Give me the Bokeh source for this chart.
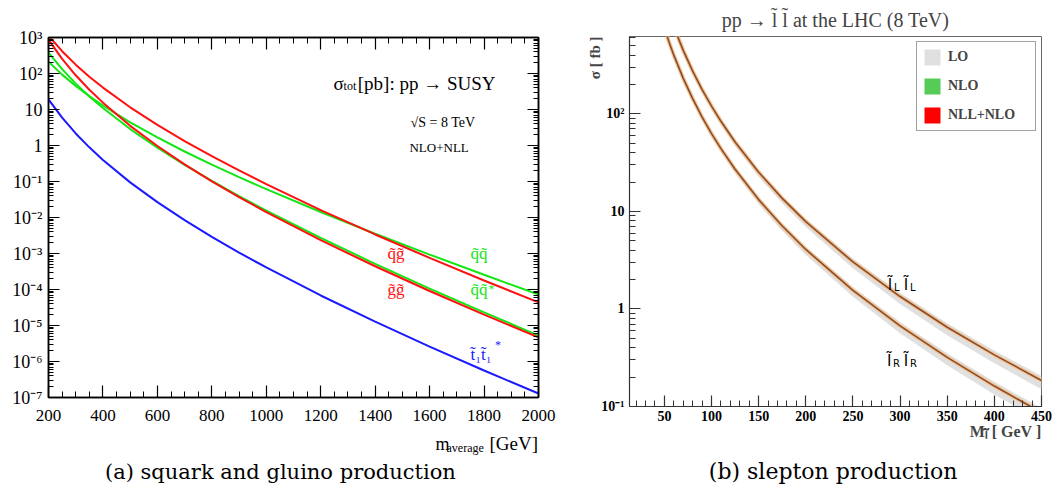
from bokeh.plotting import figure
from bokeh.models import (FixedTicker, LogAxis, LinearAxis, Label, Legend, LegendItem,
                          ColumnDataSource, CustomJSTickFormatter, Title)
from bokeh.layouts import row, column
from bokeh.embed import file_html
from bokeh.resources import INLINE
import numpy as np

# ---------------- panel (a): squark and gluino production (sigma in pb) -------------
mass_a = [200, 250, 300, 350, 400, 500, 600, 700, 800, 900, 1000, 1200, 1400, 1600, 1800, 2000]
sig_qg = [1122, 416, 176, 81.7, 40.6, 11.5, 3.74, 1.33, 0.506, 0.203, 0.0845, 0.0161, 0.00338, 7.55e-4, 1.78e-4, 4.37e-5]
sig_gg = [871, 256, 89.3, 35.5, 15.5, 3.52, 0.966, 0.299, 0.101, 0.0368, 0.0141, 2.34e-3, 4.42e-4, 9.08e-5, 2.00e-5, 4.68e-6]
sig_qqbar = [380, 132, 52.4, 23.1, 11.0, 2.86, 0.865, 0.289, 0.104, 0.0393, 0.0155, 2.70e-3, 5.16e-4, 1.06e-4, 2.31e-5, 5.25e-6]
sig_qq = [214, 93.1, 45.1, 23.5, 12.9, 4.41, 1.67, 0.681, 0.293, 0.132, 0.0611, 0.0142, 3.54e-3, 9.33e-4, 2.56e-4, 7.24e-5]
sig_stop = [19.1, 5.92, 2.16, 0.889, 0.398, 0.0946, 0.0267, 8.43e-3, 2.90e-3, 1.06e-3, 4.09e-4, 6.82e-5, 1.28e-5, 2.59e-6, 5.62e-7, 1.29e-7]

xticks_a = [200, 400, 600, 800, 1000, 1200, 1400, 1600, 1800, 2000]
yexp_a = list(range(-7, 4))

# ---------------- panel (b): slepton production (sigma in fb) -----------------------
mass_ll = [60, 70, 80, 90, 100, 110, 125, 150, 175, 200, 250, 300, 350, 400, 450]
sig_ll = [778, 447, 274, 177, 120, 83.8, 51.4, 25.2, 13.6, 7.85, 3.03, 1.34, 0.649, 0.338, 0.185]
lo_err_ll = [0.07, 0.07, 0.07, 0.07, 0.08, 0.08, 0.09, 0.10, 0.11, 0.12, 0.14, 0.16, 0.17, 0.18, 0.19]
nlo_err_ll = [0.03, 0.03, 0.03, 0.03, 0.03, 0.03, 0.03, 0.03, 0.03, 0.03, 0.03, 0.03, 0.03, 0.03, 0.03]
nll_err_ll = [0.02, 0.02, 0.02, 0.02, 0.02, 0.02, 0.02, 0.02, 0.02, 0.02, 0.02, 0.02, 0.02, 0.02, 0.02]
mass_rr = [50, 55, 60, 70, 80, 90, 100, 110, 125, 150, 175, 200, 250, 300, 350, 400, 450]
sig_rr = [757, 542, 399, 231, 143, 92.5, 62.7, 44.0, 27.0, 13.2, 7.08, 4.07, 1.55, 0.670, 0.319, 0.162, 0.0867]
lo_err_rr = [0.07, 0.07, 0.07, 0.07, 0.07, 0.07, 0.08, 0.08, 0.09, 0.10, 0.11, 0.12, 0.14, 0.16, 0.17, 0.18, 0.19]
nlo_err_rr = [0.03, 0.03, 0.03, 0.03, 0.03, 0.03, 0.03, 0.03, 0.03, 0.03, 0.03, 0.03, 0.03, 0.03, 0.03, 0.03, 0.03]
nll_err_rr = [0.02, 0.02, 0.02, 0.02, 0.02, 0.02, 0.02, 0.02, 0.02, 0.02, 0.02, 0.02, 0.02, 0.02, 0.02, 0.02, 0.02]

xticks_b = [50, 100, 150, 200, 250, 300, 350, 400, 450]
yexp_b = [-1, 0, 1, 2]

SERIF = "Liberation Serif"
SANS = "DejaVu Sans"
pow_fmt = CustomJSTickFormatter(code="""
const e = Math.round(Math.log10(tick));
const sup = {'-':'\u207b','0':'\u2070','1':'\u00b9','2':'\u00b2','3':'\u00b3','4':'\u2074','5':'\u2075','6':'\u2076','7':'\u2077','8':'\u2078','9':'\u2079'};
if (e == 0) return '1';
if (e == 1) return '10';
return '10' + String(e).split('').map(c => sup[c]).join('');
""")


def style_axis(ax, major, minor, lw=1.5, color="black"):
    ax.major_tick_in = major
    ax.major_tick_out = 0
    ax.minor_tick_in = minor
    ax.minor_tick_out = 0
    ax.axis_line_width = lw
    ax.axis_line_color = color
    ax.major_tick_line_color = color
    ax.minor_tick_line_color = color
    ax.major_tick_line_width = 1.2
    ax.minor_tick_line_width = 1


def lab(p, x, y, text, size, color="black", font=SERIF, align="left", baseline="alphabetic",
        style="normal"):
    p.add_layout(Label(x=x, y=y, text=text, text_font=font, text_font_size=size,
                       text_color=color, text_align=align, text_baseline=baseline,
                       text_font_style=style))


def blank(fw, fh, xr, bl, br):
    c = figure(frame_width=fw, frame_height=fh, x_range=xr, y_range=(0, fh),
               output_backend="svg", toolbar_location=None, x_axis_location=None,
               y_axis_location=None, min_border_left=bl, min_border_right=br,
               min_border_top=0, min_border_bottom=0)
    c.grid.visible = False
    c.outline_line_color = None
    c.background_fill_color = "white"
    c.border_fill_color = "white"
    return c

# ======================= figure (a) =======================
p1 = figure(frame_width=490, frame_height=360, x_range=(200, 2000), y_range=(1e-7, 1e3),
            y_axis_type="log", output_backend="svg", toolbar_location=None,
            min_border_left=48, min_border_right=19, min_border_top=37, min_border_bottom=33)
p1.grid.visible = False
p1.outline_line_color = "black"
p1.outline_line_width = 1.5
p1.background_fill_color = "white"
p1.border_fill_color = "white"

xt_a = FixedTicker(ticks=xticks_a, minor_ticks=list(range(200, 2001, 50)))
yt_a = FixedTicker(ticks=[10.0 ** k for k in yexp_a],
                   minor_ticks=[d * 10.0 ** k for k in yexp_a[:-1] for d in range(2, 10)])

xa = p1.xaxis[0]
xa.ticker = xt_a
style_axis(xa, 12, 6)
xa.major_label_text_font = SERIF
xa.major_label_text_font_size = "17px"
xa.major_label_standoff = 12
xa.major_label_text_color = "black"

ya = p1.yaxis[0]
ya.ticker = yt_a
ya.formatter = pow_fmt
style_axis(ya, 11, 5)
ya.major_label_text_font = SERIF
ya.major_label_text_font_size = "18px"
ya.major_label_standoff = 6
ya.major_label_text_color = "black"

top_ax = LinearAxis(ticker=xt_a, major_label_text_font_size="8px", major_label_standoff=0,
                    major_label_text_color=None)
style_axis(top_ax, 12, 6)
p1.add_layout(top_ax, "above")
right_ax = LogAxis(ticker=yt_a, major_label_text_font_size="8px", major_label_standoff=0,
                   major_label_text_color=None)
style_axis(right_ax, 11, 5)
p1.add_layout(right_ax, "right")

RED, GREEN, BLUE = "#ff1010", "#14e614", "#1a1aff"
p1.line(mass_a, sig_qq, line_color=GREEN, line_width=2)
p1.line(mass_a, sig_qqbar, line_color=GREEN, line_width=2)
p1.line(mass_a, sig_qg, line_color=RED, line_width=2)
p1.line(mass_a, sig_gg, line_color=RED, line_width=2)
p1.line(mass_a, sig_stop, line_color=BLUE, line_width=2)

# curve labels
lab(p1, 1445, 1e-3, "q\u0303g\u0303", "17px", RED, baseline="middle")
lab(p1, 1445, 1e-4, "g\u0303g\u0303", "17px", RED, baseline="middle")
lab(p1, 1750, 1e-3, "q\u0303q\u0303", "17px", GREEN, baseline="middle")
lab(p1, 1750, 1e-4, "q\u0303q\u0303", "17px", GREEN, baseline="middle")
lab(p1, 1816, 10 ** -3.98, "*", "12px", GREEN, baseline="middle")
lab(p1, 1750, 1.6e-6, "t\u0303\u2081t\u0303\u2081", "17px", BLUE, baseline="middle")
lab(p1, 1840, 10 ** -5.55, "*", "12px", BLUE, baseline="middle")

# header texts
lab(p1, 1247, 10 ** 1.722, "\u03c3", "19px")
lab(p1, 1284, 10 ** 1.66, "tot", "12px")
lab(p1, 1336, 10 ** 1.722, "[pb]: pp \u2192 SUSY", "19px")
lab(p1, 1530, 10 ** 0.639, "\u221aS = 8 TeV", "14px")
lab(p1, 1526, 10 ** -0.056, "NLO+NLL", "13px")

# caption area under panel (a): x-axis title and caption
c1 = blank(490, 68, p1.x_range, 48, 19)
lab(c1, 1622, 55, "m", "18px")
lab(c1, 1662, 51, "average", "12px")
lab(c1, 1998, 55, "[GeV]", "19px", align="right")
lab(c1, 1052, 27, "(a) squark and gluino production", "21px", font="DejaVu Serif", align="center")

# ======================= figure (b) =======================
p2 = figure(frame_width=412, frame_height=370, x_range=(13, 450), y_range=(0.1, 620),
            y_axis_type="log", output_backend="svg", toolbar_location=None,
            min_border_left=72, min_border_right=16, min_border_top=36, min_border_bottom=50)
p2.grid.visible = False
p2.outline_line_color = "#666666"
p2.outline_line_width = 1
p2.background_fill_color = "white"
p2.border_fill_color = "white"
p2.title.text = "pp \u2192 l\u0303 l\u0303 at the LHC (8 TeV)"
p2.title.align = "center"
p2.title.text_font = SERIF
p2.title.text_font_size = "20px"
p2.title.text_font_style = "normal"
p2.title.standoff = 11

xb = p2.xaxis[0]
xb.ticker = FixedTicker(ticks=xticks_b, minor_ticks=list(range(20, 451, 10)))
style_axis(xb, 11, 6, lw=1.2, color="#333333")
xb.major_label_text_font = SERIF
xb.major_label_text_font_style = "bold"
xb.major_label_text_font_size = "14px"
xb.major_label_standoff = 4
xb.major_label_text_color = "black"

yb = p2.yaxis[0]
yb.ticker = FixedTicker(ticks=[10.0 ** k for k in yexp_b],
                        minor_ticks=[d * 10.0 ** k for k in yexp_b for d in range(2, 10)])
yb.formatter = pow_fmt
style_axis(yb, 11, 6, lw=1.2, color="#333333")
yb.major_label_text_font = SERIF
yb.major_label_text_font_style = "bold"
yb.major_label_text_font_size = "14px"
yb.major_label_standoff = 5
yb.major_label_text_color = "black"

p2.add_layout(Title(text="M\u2097\u0303 [ GeV ]", align="right", text_font=SERIF,
                    text_font_style="bold", text_font_size="16px", standoff=-6), "below")
p2.add_layout(Title(text="\u03c3 [ fb ]", align="right", text_font=SERIF,
                    text_font_style="bold", text_font_size="15px", standoff=-8), "left")

renders = {}
for name, m, s, e_lo, e_nlo, e_nll in (("LL", mass_ll, sig_ll, lo_err_ll, nlo_err_ll, nll_err_ll),
                                        ("RR", mass_rr, sig_rr, lo_err_rr, nlo_err_rr, nll_err_rr)):
    s = np.array(s)
    src = ColumnDataSource(dict(
        x=m, y=s,
        lo1=s * (1 - np.array(e_lo)), lo2=s * (1 + 0.6 * np.array(e_lo)),
        nlo1=s * (1 - np.array(e_nlo)), nlo2=s * (1 + np.array(e_nlo)),
        nll1=s * (1 - np.array(e_nll)), nll2=s * (1 + np.array(e_nll))))
    renders[name] = (
        p2.varea(x="x", y1="lo1", y2="lo2", source=src, fill_color="#e0e0e0"),
        p2.varea(x="x", y1="nlo1", y2="nlo2", source=src, fill_color="#55cc55"),
        p2.varea(x="x", y1="nll1", y2="nll2", source=src, fill_color="#ff0000"),
    )
    p2.line("x", "y", source=src, line_color="#f2c595", line_width=4)
    p2.line("x", "y", source=src, line_color="#8b4c2c", line_width=1.6)

leg = Legend(items=[LegendItem(label="LO", renderers=[renders["LL"][0]]),
                    LegendItem(label="NLO", renderers=[renders["LL"][1]]),
                    LegendItem(label="NLL+NLO", renderers=[renders["LL"][2]])],
             location="top_right", margin=5, padding=5, spacing=9,
             glyph_width=20, glyph_height=20, label_height=20, label_width=82,
             label_standoff=6, label_text_font=SERIF, label_text_font_style="bold",
             label_text_font_size="14px", border_line_color="#444444",
             background_fill_color="white", background_fill_alpha=1)
p2.add_layout(leg)

lab(p2, 287, 1.78, "l\u0303", "16px", font=SANS)
lab(p2, 293.5, 1.64, "L", "10px", font=SANS)
lab(p2, 304, 1.78, "l\u0303", "16px", font=SANS)
lab(p2, 310.5, 1.64, "L", "10px", font=SANS)
lab(p2, 286, 0.296, "l\u0303", "16px", font=SANS)
lab(p2, 292.5, 0.275, "R", "10px", font=SANS)
lab(p2, 304, 0.296, "l\u0303", "16px", font=SANS)
lab(p2, 310.5, 0.275, "R", "10px", font=SANS)

c2 = blank(412, 42, p2.x_range, 72, 16)
lab(c2, 229, 27, "(b) slepton production", "22px", font="DejaVu Serif", align="center")

layout = row(column(p1, c1), column(p2, c2))
open("out.html", "w").write(file_html(layout, INLINE))
